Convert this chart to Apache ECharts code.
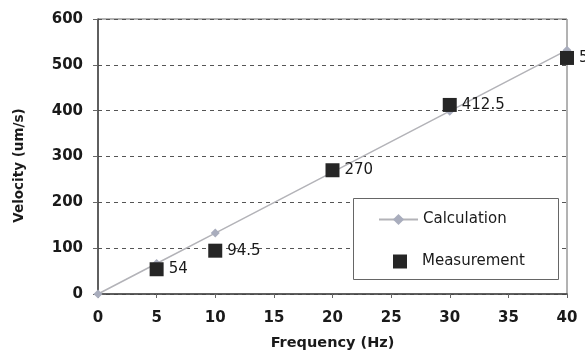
<!DOCTYPE html>
<html>
<head>
<meta charset="utf-8">
<script src="https://cdn.jsdelivr.net/npm/echarts@6/dist/echarts.min.js"></script>
<style>
  html, body { margin: 0; padding: 0; background: #fff; }
  #chart { width: 585px; height: 356px; }
</style>
</head>
<body>
<div id="chart"></div>
<script>
// frequency (Hz) vs velocity (um/s)
const calcFreq = [0, 5, 10, 20, 30, 40]
const calcVelocity = [0, 66.5, 133, 266, 399, 532]
const measFreq = [5, 10, 20, 30, 40]
const measVelocity = [54, 94.5, 270, 412.5, 515]

const font = '"DejaVu Sans", Verdana, sans-serif'

const chart = echarts.init(document.getElementById('chart'))

const legendText = { fontSize: 15, color: '#1a1a1a', fontFamily: font }

chart.setOption({
  animation: false,
  textStyle: { fontFamily: font },
  grid: {
    left: 98, right: 18, top: 19, bottom: 62,
    show: true, borderColor: '#666', borderWidth: 1
  },
  // legend frame
  graphic: [{
    type: 'rect',
    shape: { x: 353.5, y: 198.5, width: 205, height: 81 },
    style: { fill: '#fff', stroke: '#666', lineWidth: 1 },
    z: 10
  }],
  legend: [
    {
      left: 378, top: 212,
      padding: 0,
      itemWidth: 39, itemHeight: 14,
      textStyle: legendText,
      data: ['Calculation'],
      z: 11
    },
    {
      left: 393, top: 254,
      padding: 0,
      itemWidth: 14, itemHeight: 14,
      textStyle: Object.assign({ padding: [0, 0, 0, 10] }, legendText),
      data: ['Measurement'],
      z: 11
    }
  ],
  xAxis: {
    type: 'value',
    min: 0, max: 40, interval: 5,
    name: 'Frequency (Hz)',
    nameLocation: 'middle',
    nameGap: 42,
    nameTextStyle: { fontSize: 14.5, fontWeight: 'bold', color: '#1a1a1a' },
    axisLine: { lineStyle: { color: '#444', width: 1.5 } },
    axisTick: { show: true, length: 4, lineStyle: { color: '#666' } },
    axisLabel: { fontSize: 15, fontWeight: 'bold', color: '#1a1a1a', margin: 17 },
    splitLine: { show: false }
  },
  yAxis: {
    type: 'value',
    min: 0, max: 600, interval: 100,
    name: 'Velocity (um/s)',
    nameLocation: 'middle',
    nameGap: 72,
    nameTextStyle: { fontSize: 13.5, fontWeight: 'bold', color: '#1a1a1a', padding: [0, 18, 0, 0] },
    axisLine: { show: true, lineStyle: { color: '#444', width: 1.5 } },
    axisTick: { show: true, length: 5, lineStyle: { color: '#666' } },
    axisLabel: { fontSize: 15, fontWeight: 'bold', color: '#1a1a1a', margin: 15 },
    splitLine: { show: true, lineStyle: { color: '#555', type: [4, 4], width: 1 } }
  },
  series: [
    {
      name: 'Calculation',
      type: 'line',
      data: calcFreq.map((f, i) => [f, calcVelocity[i]]),
      symbol: 'diamond',
      symbolSize: 9,
      itemStyle: { color: '#a9adbd' },
      lineStyle: { color: '#b3b3b8', width: 1.5 },
      z: 2
    },
    {
      name: 'Measurement',
      type: 'scatter',
      data: measFreq.map((f, i) => [f, measVelocity[i]]),
      symbol: 'rect',
      symbolSize: 14,
      itemStyle: { color: '#262626', opacity: 1 },
      label: {
        show: true,
        position: 'right',
        distance: 5,
        fontSize: 15,
        color: '#1a1a1a',
        formatter: p => String(p.value[1])
      },
      z: 3
    }
  ]
})
</script>
</body>
</html>
